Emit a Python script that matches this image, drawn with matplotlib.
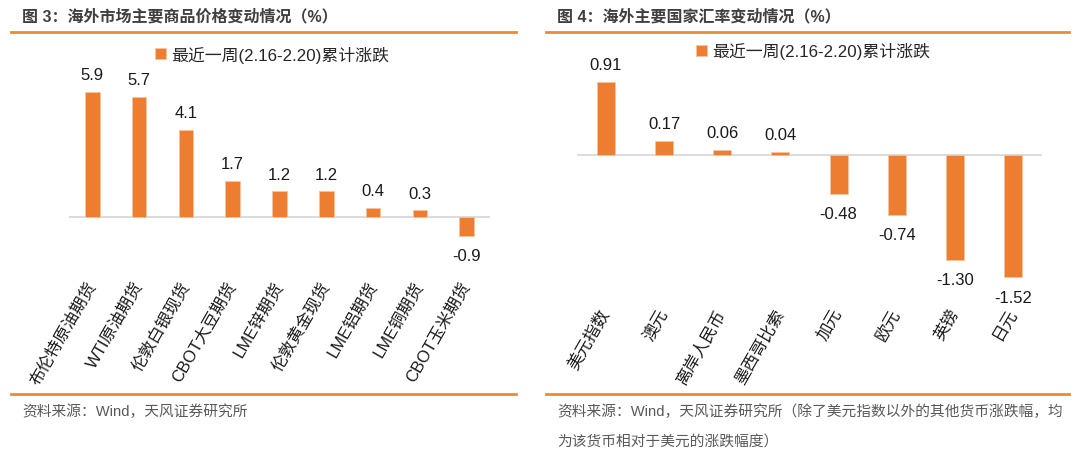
import matplotlib
matplotlib.use("Agg")
import matplotlib.pyplot as plt
from matplotlib.lines import Line2D

plt.rcParams['font.family'] = ['Liberation Sans', 'Noto Sans CJK SC', 'DejaVu Sans']

# data
commodities = ["布伦特原油期货", "WTI原油期货", "伦敦白银现货", "CBOT大豆期货", "LME锌期货",
               "伦敦黄金现货", "LME铝期货", "LME铜期货", "CBOT玉米期货"]
commodity_chg = [5.9, 5.7, 4.1, 1.7, 1.2, 1.2, 0.4, 0.3, -0.9]

currencies = ["美元指数", "澳元", "离岸人民币", "墨西哥比索", "加元", "欧元", "英镑", "日元"]
currency_chg = [0.91, 0.17, 0.06, 0.04, -0.48, -0.74, -1.30, -1.52]

legend_label = "最近一周(2.16-2.20)累计涨跌"
titles = ["图 3：海外市场主要商品价格变动情况（%）", "图 4：海外主要国家汇率变动情况（%）"]
source_left = "资料来源：Wind，天风证券研究所"
source_right = ["资料来源：Wind，天风证券研究所（除了美元指数以外的其他货币涨跌幅，均",
                "为该货币相对于美元的涨跌幅度）"]

W, H = 1080, 460
ORANGE = "#ED7D31"
LINE = "#F08A30"
TITLE_C = "#3F3F3F"
SRC_C = "#595959"

fig = plt.figure(figsize=(W / 100, H / 100), dpi=100)


def px_axes(x0, x1, y_top, y_bot):
    return fig.add_axes([x0 / W, 1 - y_bot / H, (x1 - x0) / W, (y_bot - y_top) / H])


def hline(x0, x1, y):
    fig.add_artist(Line2D([x0 / W, x1 / W], [1 - y / H, 1 - y / H], color=LINE, lw=2,
                          transform=fig.transFigure))


def bar_panel(ax, cats, vals, ylim, width, label_pad_pt, fmt):
    x = list(range(len(cats)))
    bars = ax.bar(x, vals, width=width, color=ORANGE, edgecolor="#F6C3A0", linewidth=0.6,
                  label=legend_label, zorder=2)
    ax.axhline(0, color="#D9D9D9", lw=1.3, zorder=1)
    ax.set_xlim(-0.5, len(cats) - 0.5)
    ax.set_ylim(*ylim)
    for b, v in zip(bars, vals):
        off = 12.5 if v >= 0 else -14.5
        ax.annotate(fmt.format(v), (b.get_x() + b.get_width() / 2, v), xytext=(0, off),
                    textcoords="offset points", ha="center", va="center", fontsize=12,
                    color="#1a1a1a")
    ax.set_xticks(x)
    ax.set_xticklabels(cats, fontsize=12, color="#1a1a1a")
    plt.setp(ax.get_xticklabels(), rotation=60, ha="right", va="center", rotation_mode="anchor")
    ax.tick_params(axis="x", length=0, pad=label_pad_pt)
    ax.set_yticks([])
    for s in ax.spines.values():
        s.set_visible(False)
    ax.patch.set_alpha(0)
    return bars


# left panel: zero at y=217.7px, 21.08 px per unit
axl = px_axes(69, 490, 70, 240)
bar_panel(axl, commodities, commodity_chg, (-(240 - 217.7) / 21.08, (217.7 - 70) / 21.08),
          0.31, 31, "{:.1f}")

# right panel: zero at y=156px, 80.5 px per unit
axr = px_axes(577, 1042, 70, 285)
bar_panel(axr, currencies, currency_chg, (-(285 - 156) / 80.5, (156 - 70) / 80.5),
          0.31, 18.5, "{:.2f}")

# legends
for ax, cx, cy in [(axl, 272, 55), (axr, 813, 52)]:
    ax.legend(loc="center", bbox_to_anchor=(cx / W, 1 - cy / H), bbox_transform=fig.transFigure,
              frameon=False, fontsize=12.2, handlelength=0.65, handleheight=0.65,
              handletextpad=0.25, labelcolor="#262626")

# titles, rules, sources
fig.text(22 / W, 1 - 17 / H, titles[0], fontsize=11.5, fontweight="bold", color=TITLE_C,
         ha="left", va="center")
fig.text(557 / W, 1 - 17 / H, titles[1], fontsize=11.5, fontweight="bold", color=TITLE_C,
         ha="left", va="center")
hline(11, 516, 32.7)
hline(546, 1069, 32.7)
hline(11, 516, 395.3)
hline(546, 1069, 395.3)

fig.text(22 / W, 1 - 412 / H, source_left, fontsize=10.6, color=SRC_C, ha="left", va="center")
fig.text(557 / W, 1 - 412 / H, source_right[0], fontsize=10.6, color=SRC_C, ha="left", va="center")
fig.text(557 / W, 1 - 443 / H, source_right[1], fontsize=10.6, color=SRC_C, ha="left", va="center")

fig.savefig("out.png", dpi=100)
